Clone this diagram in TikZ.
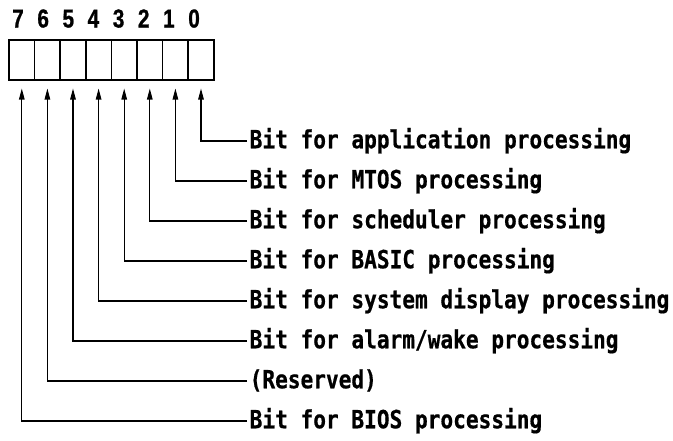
\documentclass[tikz,border=0pt]{standalone}
\usepackage{fontspec}
\newfontfamily\bitfont{DejaVu Sans Mono}[FakeStretch=0.845,FakeBold=0.6]
\newfontfamily\digfont{Liberation Sans}[FakeStretch=0.8,FakeBold=0.8]
\usetikzlibrary{arrows.meta,calc}
\begin{document}
\begin{tikzpicture}[x=1pt,y=-1pt,
  cell/.style={draw,line width=1.5pt,minimum width=25.6pt,minimum height=40pt,inner sep=0pt,outer sep=0pt},
  digit/.style={font=\digfont\bfseries\fontsize{26}{26}\selectfont,inner sep=0pt,anchor=base},
  lbl/.style={font=\bitfont\bfseries\fontsize{25}{25}\selectfont,anchor=west,inner xsep=2.5pt,inner ysep=0pt,text height=16pt,text depth=1.5pt},
  conn/.style={line width=1.1pt,-{Triangle[length=11pt,width=5.5pt]}}]
\useasboundingbox (0,0) rectangle (673,440);
% register cells
\foreach \i in {0,...,7}{
  \node[cell] (c\i) at ({9+12.8+25.6*(7-\i)},60) {};
  \node[digit] (d\i) at ({18+25.15*(7-\i)},27.5) {\i};
}
% labels
\node[lbl] (l0) at (247,141) {Bit for application processing};
\node[lbl] (l1) at (247,181) {Bit for MTOS processing};
\node[lbl] (l2) at (247,221) {Bit for scheduler processing};
\node[lbl] (l3) at (247,261) {Bit for BASIC processing};
\node[lbl] (l4) at (247,301) {Bit for system display processing};
\node[lbl] (l5) at (247,341) {Bit for alarm/wake processing};
\node[lbl] (l6) at (247,381) {(Reserved)};
\node[lbl] (l7) at (247,421) {Bit for BIOS processing};
% connectors
\foreach \i in {0,...,7}{
  \draw[conn] (l\i.west) -| ($(c\i.south)+(0,8.5)$);
}
\end{tikzpicture}
\end{document}
